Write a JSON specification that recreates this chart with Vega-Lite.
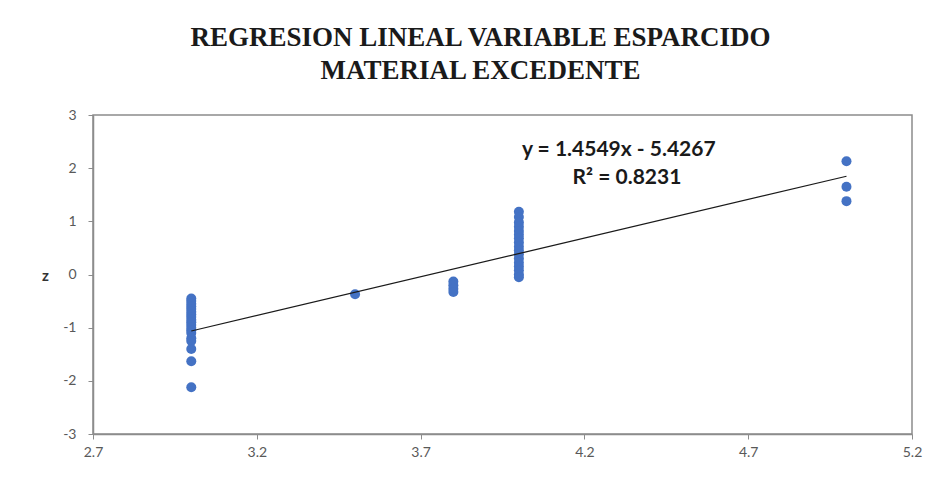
{
  "$schema": "https://vega.github.io/schema/vega-lite/v6.json",
  "width": 819,
  "height": 319,
  "autosize": {"type": "none"},
  "padding": {"left": 93, "top": 115, "right": 30, "bottom": 47},
  "background": "white",
  "config": {
    "view": {"stroke": "#8c8c8c", "strokeWidth": 1.5},
    "axis": {"grid": false, "labelFont": "Lato", "labelFontSize": 14, "labelColor": "#595959", "domainColor": "#8c8c8c", "domainWidth": 1.5, "tickColor": "#8c8c8c", "tickSize": 5}
  },
  "title": {
    "text": ["REGRESION LINEAL VARIABLE ESPARCIDO", "MATERIAL EXCEDENTE"],
    "font": "Liberation Serif",
    "fontSize": 27,
    "fontWeight": "bold",
    "color": "#1a1a1a",
    "lineHeight": 33,
    "anchor": "middle",
    "frame": "group",
    "dx": -22,
    "offset": 23
  },
  "datasets": {
    "pts": [
      {"x": 3, "z": -0.45}, {"x": 3, "z": -0.5}, {"x": 3, "z": -0.55}, {"x": 3, "z": -0.6}, {"x": 3, "z": -0.65},
      {"x": 3, "z": -0.7}, {"x": 3, "z": -0.75}, {"x": 3, "z": -0.8}, {"x": 3, "z": -0.85}, {"x": 3, "z": -0.9},
      {"x": 3, "z": -0.95}, {"x": 3, "z": -1.0}, {"x": 3, "z": -1.05}, {"x": 3, "z": -1.1}, {"x": 3, "z": -1.2},
      {"x": 3, "z": -1.25}, {"x": 3, "z": -1.4}, {"x": 3, "z": -1.63}, {"x": 3, "z": -2.12},
      {"x": 3.5, "z": -0.37},
      {"x": 3.8, "z": -0.13}, {"x": 3.8, "z": -0.2}, {"x": 3.8, "z": -0.27}, {"x": 3.8, "z": -0.33},
      {"x": 4, "z": 1.18}, {"x": 4, "z": 1.08}, {"x": 4, "z": 0.98}, {"x": 4, "z": 0.9}, {"x": 4, "z": 0.82},
      {"x": 4, "z": 0.75}, {"x": 4, "z": 0.68}, {"x": 4, "z": 0.6}, {"x": 4, "z": 0.52}, {"x": 4, "z": 0.45},
      {"x": 4, "z": 0.38}, {"x": 4, "z": 0.3}, {"x": 4, "z": 0.22}, {"x": 4, "z": 0.15}, {"x": 4, "z": 0.08},
      {"x": 4, "z": 0.0}, {"x": 4, "z": -0.05},
      {"x": 5, "z": 2.13}, {"x": 5, "z": 1.65}, {"x": 5, "z": 1.38}
    ],
    "fit": [
      {"x": 3, "z": -1.062},
      {"x": 5, "z": 1.8478}
    ],
    "eq": [
      {"x": 4.305, "z": 2.35, "label": "y = 1.4549x - 5.4267"},
      {"x": 4.33, "z": 1.82, "label": "R² = 0.8231"}
    ]
  },
  "encoding": {
    "x": {
      "field": "x", "type": "quantitative",
      "scale": {"domain": [2.7, 5.2], "nice": false, "zero": false},
      "axis": {"values": [2.7, 3.2, 3.7, 4.2, 4.7, 5.2], "format": ".1f", "title": null, "labelPadding": 6, "labelFlush": false}
    },
    "y": {
      "field": "z", "type": "quantitative",
      "scale": {"domain": [-3, 3], "nice": false},
      "axis": {"values": [-3, -2, -1, 0, 1, 2, 3], "labelExpr": "toString(datum.value)", "title": "z", "titleAngle": 0, "titleFont": "Lato", "titleFontSize": 15, "titleFontWeight": "bold", "titleColor": "#333333", "titleX": -48, "titleY": 160, "titleAlign": "center", "titleBaseline": "middle", "labelPadding": 12}
    }
  },
  "layer": [
    {
      "data": {"name": "pts"},
      "mark": {"type": "circle", "size": 100, "color": "#4472C4", "opacity": 1}
    },
    {
      "data": {"name": "fit"},
      "mark": {"type": "line", "color": "#1a1a1a", "strokeWidth": 1.2}
    },
    {
      "data": {"name": "eq"},
      "mark": {"type": "text", "font": "Lato", "fontSize": 21, "fontWeight": "bold", "color": "#1a1a1a", "align": "center", "baseline": "middle"},
      "encoding": {"text": {"field": "label"}}
    }
  ]
}
